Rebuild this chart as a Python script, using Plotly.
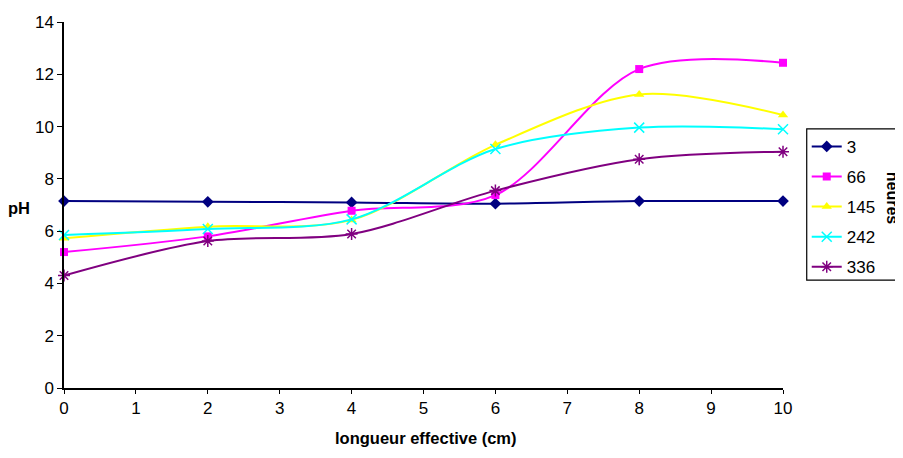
import plotly.graph_objects as go

# longueur effective (cm)
longueur = [0, 2, 4, 6, 8, 10]

# pH for each duration (heures)
heures = ["3", "66", "145", "242", "336"]
ph_3 = [7.15, 7.12, 7.1, 7.05, 7.15, 7.15]
ph_66 = [5.2, 5.8, 6.78, 7.38, 12.2, 12.44]
ph_145 = [5.73, 6.17, 6.43, 9.3, 11.23, 10.44]
ph_242 = [5.85, 6.08, 6.45, 9.14, 9.96, 9.9]
ph_336 = [4.3, 5.62, 5.89, 7.55, 8.75, 9.04]

series = [ph_3, ph_66, ph_145, ph_242, ph_336]
colors = ["#000080", "#FF00FF", "#FFFF00", "#00FFFF", "#800080"]
symbols = ["diamond", "square", "triangle-up", "x-thin-open", "asterisk-open"]
sizes = [9, 8, 9, 10, 10]

font_family = "Liberation Sans, Arial, sans-serif"

fig = go.Figure()
for name, vals, col, sym, sz in zip(heures, series, colors, symbols, sizes):
    marker = dict(symbol=sym, size=sz, color=col)
    if sym.endswith("-open"):
        marker["line"] = dict(color=col, width=1.5)
    fig.add_trace(go.Scatter(x=longueur, y=vals,
                             mode='lines+markers',
                             name=name,
                             legendgroup=name,
                             line=dict(color=col, width=2,
                                       shape='spline', smoothing=0.9),
                             marker=marker,
                             cliponaxis=False))

# legend frame (extends past the right edge like the original)
fig.add_shape(type="rect", xref="paper", yref="paper",
              x0=1.033, x1=1.18, y0=0.295, y1=0.708,
              line=dict(color="black", width=1.2))

fig.add_annotation(text="<b>heures</b>", xref="paper", yref="paper",
                   x=1.168, y=0.519, showarrow=False, textangle=90,
                   font=dict(size=16, color="black"))
fig.add_annotation(text="<b>pH</b>", xref="paper", yref="paper",
                   x=-0.044, y=0.492, xanchor="right", showarrow=False,
                   font=dict(size=16.5, color="black"))
fig.add_annotation(text="<b>longueur effective (cm)</b>", xref="paper",
                   yref="paper", x=0.503, y=-0.167, showarrow=False,
                   font=dict(size=16.5, color="black"))

# page body adds an 8px offset, so the figure is 8px smaller
fig.update_layout(width=895, height=450,
                  margin=dict(l=56, r=120, t=14, b=70),
                  paper_bgcolor="white", plot_bgcolor="white",
                  font=dict(family=font_family, size=17, color="black"),
                  legend=dict(x=1.033, y=0.708, xanchor="left",
                              yanchor="top", bgcolor="rgba(0,0,0,0)",
                              borderwidth=0, tracegroupgap=5,
                              font=dict(size=17)),
                  showlegend=True)
fig.update_xaxes(range=[0, 10], dtick=1, showgrid=False, zeroline=False,
                 showline=True, linecolor="black", linewidth=1.5,
                 ticks="outside", ticklen=4, tickcolor="black",
                 tickfont=dict(size=17), automargin=False)
fig.update_yaxes(range=[0, 14], dtick=2, showgrid=False, zeroline=False,
                 showline=True, linecolor="black", linewidth=1.5,
                 ticks="outside", ticklen=5, tickcolor="black",
                 tickfont=dict(size=17), automargin=False)

fig.write_html("out.html")
